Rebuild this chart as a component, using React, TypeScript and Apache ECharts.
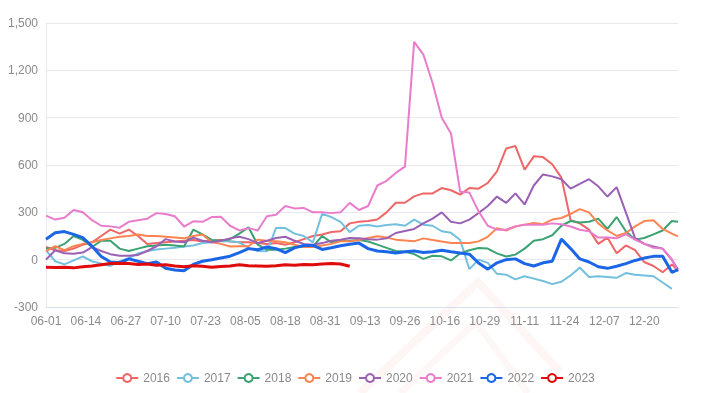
import React, { useEffect, useRef } from "react";
import * as echarts from "echarts";

// Categories: 06-01 .. 12-31, with 10-01..10-07 absent
const monthDays: [number, number][] = [[6, 30], [7, 31], [8, 31], [9, 30], [10, 31], [11, 30], [12, 31]];
const categories: string[] = [];
for (const [m, d] of monthDays) {
  for (let day = 1; day <= d; day++) {
    if (m === 10 && day <= 7) continue;
    categories.push(String(m).padStart(2, "0") + "-" + String(day).padStart(2, "0"));
  }
}
// sampled category positions (every 3rd day, plus the last)
const sampleIdx: number[] = [];
for (let i = 0; i <= 204; i += 3) sampleIdx.push(i);
sampleIdx.push(206);

const yTicks = [-300, 0, 300, 600, 900, 1200, 1500];
const legendNames = ["2016", "2017", "2018", "2019", "2020", "2021", "2022", "2023"];
const colors = ["#ee6666", "#73c0de", "#3ba272", "#fc8452", "#9a60b4", "#ea7ccc", "#1a66e6", "#e00b0b"];

const y2016 = [80, 60, 55, 70, 95, 110, 150, 190, 165, 190, 150, 100, 105, 110, 115, 120, 125, 115, 120, 125, 115, 110, 110, 105, 100, 105, 95, 110, 130, 150, 160, 175, 180, 230, 240, 245, 255, 300, 361, 361, 401, 420, 420, 454, 440, 412, 454, 450, 486, 560, 705, 720, 570, 655, 650, 605, 520, 250, 230, 190, 100, 140, 40, 90, 60, -15, -40, -80, -30, -70];
const y2017 = [60, -10, -30, -5, 20, -10, -25, -40, -10, 10, 40, 55, 65, 70, 75, 84, 90, 106, 110, 116, 116, 110, 75, 55, 53, 201, 200, 165, 150, 110, 290, 270, 240, 175, 215, 220, 210, 220, 225, 215, 254, 222, 215, 180, 170, 125, -60, 0, -20, -90, -95, -125, -105, -120, -135, -155, -140, -100, -50, -110, -105, -110, -115, -85, -95, -100, -105, -145, -185];
const y2018 = [70, 75, 100, 150, 125, 80, 120, 120, 70, 55, 70, 85, 90, 95, 90, 84, 190, 160, 125, 120, 130, 165, 205, 95, 63, 63, 70, 80, 84, 84, 150, 110, 125, 120, 125, 115, 95, 75, 55, 50, 35, 5, 25, 21, -5, 40, 60, 74, 70, 40, 20, 32, 70, 120, 130, 155, 215, 245, 235, 240, 260, 195, 270, 180, 127, 137, 160, 185, 245, 240];
const y2019 = [55, 85, 60, 85, 100, 110, 125, 135, 145, 150, 160, 150, 150, 145, 140, 135, 150, 160, 110, 100, 84, 85, 85, 127, 120, 116, 110, 95, 80, 80, 90, 100, 116, 116, 125, 137, 148, 140, 127, 122, 116, 135, 125, 115, 106, 106, 105, 116, 145, 200, 185, 210, 222, 232, 225, 254, 264, 290, 320, 300, 230, 185, 150, 169, 211, 245, 250, 195, 165, 148];
const y2020 = [0, 60, 40, 38, 45, 80, 55, 35, 25, 25, 30, 55, 85, 130, 115, 110, 140, 120, 110, 120, 135, 145, 130, 106, 120, 137, 145, 120, 100, 95, 105, 120, 127, 137, 135, 130, 127, 135, 169, 182, 195, 230, 260, 300, 240, 230, 254, 296, 340, 400, 360, 420, 350, 470, 540, 528, 510, 450, 480, 510, 465, 400, 460, 300, 137, 100, 84, 70, 0, -63];
const y2021 = [279, 254, 265, 315, 300, 250, 215, 211, 203, 240, 250, 260, 295, 290, 275, 210, 243, 240, 270, 272, 215, 185, 200, 185, 275, 285, 340, 325, 328, 300, 300, 295, 300, 360, 315, 340, 470, 500, 550, 590, 1380, 1300, 1120, 900, 800, 430, 425, 306, 215, 190, 190, 211, 222, 222, 222, 230, 225, 210, 190, 180, 140, 140, 135, 160, 127, 100, 75, 70, 0, -74];
const y2022 = [130, 170, 178, 160, 140, 85, 20, -15, -20, 5, -10, -25, -15, -55, -65, -70, -30, -10, 0, 11, 22, 45, 70, 63, 80, 70, 45, 75, 90, 90, 65, 75, 88, 98, 105, 70, 55, 50, 42, 50, 55, 45, 50, 60, 50, 42, 35, -21, -60, -20, 0, 5, -25, -40, -20, -10, 130, 70, 5, -15, -45, -55, -42, -25, -5, 10, 21, 22, -80, -63];
const y2023 = [-48, -50, -48, -52, -45, -40, -32, -25, -22, -25, -30, -28, -35, -32, -40, -45, -38, -42, -48, -44, -40, -32, -38, -40, -42, -38, -32, -35, -30, -32, -28, -25, -27, -42];

const seriesValues = [y2016, y2017, y2018, y2019, y2020, y2021, y2022, y2023];

export default function App() {
  const ref = useRef<HTMLDivElement>(null);
  useEffect(() => {
    if (!ref.current) return;
    const chart = echarts.init(ref.current, undefined, { renderer: "svg" });
    const series = legendNames.map((name, si) => ({
      name,
      type: "line",
      showSymbol: false,
      symbol: "emptyCircle",
      symbolSize: 8,
      data: seriesValues[si].map((v, i) => [categories[sampleIdx[i]], v]),
      lineStyle: { width: si >= 6 ? 3 : 2, color: colors[si] },
      itemStyle: { color: colors[si] },
      z: si >= 6 ? 3 : 2,
    }));
    chart.setOption({
      animation: false,
      color: colors,
      grid: { left: 46, right: 32, top: 23, bottom: 86, containLabel: false },
      legend: {
        data: legendNames,
        bottom: 4,
        left: "center",
        itemWidth: 22,
        itemHeight: 10,
        itemGap: 6,
        textStyle: { color: "#8a8a8a", fontSize: 12, fontFamily: "Liberation Sans, sans-serif" },
      },
      xAxis: {
        type: "category",
        data: categories,
        boundaryGap: false,
        axisLine: { onZero: false, lineStyle: { color: "#d8deef" } },
        axisTick: { show: false },
        axisLabel: { interval: 12, color: "#8a8a8a", fontSize: 12, fontFamily: "Liberation Sans, sans-serif" },
        splitLine: { show: false },
      },
      yAxis: {
        type: "value",
        min: yTicks[0],
        max: yTicks[yTicks.length - 1],
        interval: 300,
        axisLine: { show: true, lineStyle: { color: "#e6e9f2" } },
        axisTick: { show: false },
        axisLabel: {
          color: "#8a8a8a",
          fontSize: 12,
          fontFamily: "Liberation Sans, sans-serif",
          formatter: (v: number) => v.toLocaleString("en-US"),
        },
        splitLine: { lineStyle: { color: "#e6e9f2" } },
      },
      graphic: [
        {
          type: "polyline",
          silent: true,
          z: -10,
          shape: { points: [[360, 393], [478, 282], [560, 372]] },
          style: { stroke: "rgba(240,90,90,0.06)", lineWidth: 8, fill: "none" },
        },
        {
          type: "polyline",
          silent: true,
          z: -10,
          shape: { points: [[400, 393], [476, 322], [528, 393]] },
          style: { stroke: "rgba(240,90,90,0.05)", lineWidth: 7, fill: "none" },
        },
      ],
      series,
    });
    return () => chart.dispose();
  }, []);
  return <div ref={ref} style={{ position: "fixed", left: 0, top: 0, width: 710, height: 393 }} />;
}
